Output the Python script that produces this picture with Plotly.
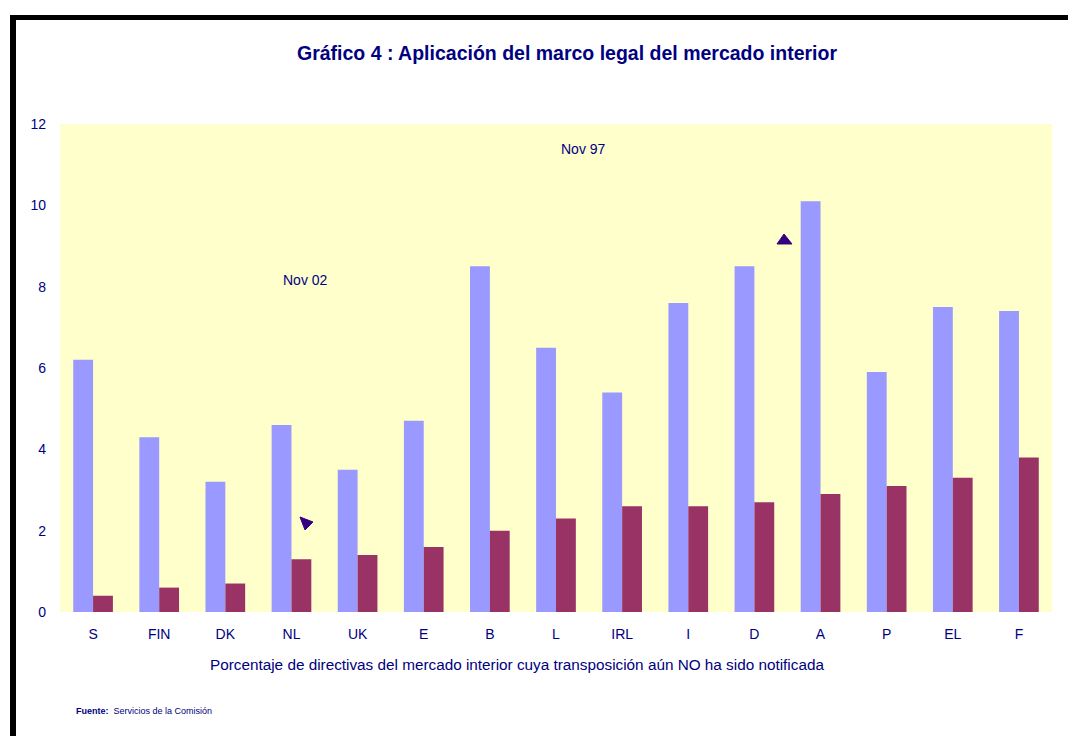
import plotly.graph_objects as go

categories = ["S", "FIN", "DK", "NL", "UK", "E", "B", "L", "IRL", "I", "D", "A", "P", "EL", "F"]
nov97 = [6.2, 4.3, 3.2, 4.6, 3.5, 4.7, 8.5, 6.5, 5.4, 7.6, 8.5, 10.1, 5.9, 7.5, 7.4]
nov02 = [0.4, 0.6, 0.7, 1.3, 1.4, 1.6, 2.0, 2.3, 2.6, 2.6, 2.7, 2.9, 3.1, 3.3, 3.8]
yticks = [0, 2, 4, 6, 8, 10, 12]

NAVY = "#000080"
FONT = "Liberation Sans, Arial, sans-serif"

fig = go.Figure()
fig.add_trace(go.Bar(x=categories, y=nov97, name="Nov 97", marker_color="#9999FF", marker_line_width=0))
fig.add_trace(go.Bar(x=categories, y=nov02, name="Nov 02", marker_color="#993366", marker_line_width=0))

# page pixel -> paper helpers (plot area 60..1052 x, 124..612 y on the page)
def px(x):
    return (x - 60) / 992.0

def py(y):
    return (612 - y) / 488.0

def tri(points):
    return "M " + " L ".join(f"{px(x):.5f},{py(y):.5f}" for x, y in points) + " Z"

fig.update_layout(
    width=1068, height=728,
    margin=dict(l=52, r=24, t=116, b=124, autoexpand=False),
    paper_bgcolor="white",
    plot_bgcolor="#FFFFCC",
    barmode="group",
    bargap=0.4,
    bargroupgap=0,
    showlegend=False,
    font=dict(family=FONT, color=NAVY, size=14),
    title=dict(text="<b>Gráfico 4 : Aplicación del marco legal del mercado interior</b>",
               x=(567 - 8) / 1068, xanchor="center", y=1 - (53 - 8) / 728, yanchor="middle",
               font=dict(size=19.5, color=NAVY, family="Liberation Sans Narrow, Arial Narrow, Liberation Sans, Arial")),
    xaxis=dict(showgrid=False, zeroline=False, showline=False, ticks="",
               tickfont=dict(size=14, color=NAVY), ticklabelstandoff=12),
    yaxis=dict(range=[0, 12], tickvals=yticks, showgrid=False, zeroline=False, showline=False,
               ticks="", tickfont=dict(size=14, color=NAVY), ticklabelstandoff=13),
)

annotations = [
    dict(text="Porcentaje de directivas del mercado interior cuya transposición aún NO ha sido notificada",
         x=px(516.5), y=py(664), xref="paper", yref="paper", showarrow=False,
         xanchor="center", yanchor="middle", font=dict(size=15.3, color=NAVY)),
    dict(text="Nov 97", x=px(583), y=py(149), xref="paper", yref="paper", showarrow=False,
         xanchor="center", yanchor="middle", font=dict(size=14, color=NAVY)),
    dict(text="Nov 02", x=px(305), y=py(280), xref="paper", yref="paper", showarrow=False,
         xanchor="center", yanchor="middle", font=dict(size=14, color=NAVY)),
    dict(text="<b>Fuente:</b>  Servicios de la Comisión", x=px(74), y=py(711), xref="paper", yref="paper",
         xanchor="left", yanchor="middle", showarrow=False, font=dict(size=9, color=NAVY)),
]
fig.update_layout(annotations=annotations)

shapes = [
    dict(type="line", xref="paper", yref="paper", x0=px(10), x1=px(1076), y0=py(17.5), y1=py(17.5),
         line=dict(color="black", width=5)),
    dict(type="line", xref="paper", yref="paper", x0=px(13), x1=px(13), y0=py(15), y1=py(740),
         line=dict(color="black", width=6)),
    dict(type="path", xref="paper", yref="paper", path=tri([(300, 517), (313, 522), (305, 530)]),
         fillcolor="#330080", line=dict(color="#330080", width=1)),
    dict(type="path", xref="paper", yref="paper", path=tri([(784, 234), (777, 244), (792, 244)]),
         fillcolor="#330080", line=dict(color="#330080", width=1)),
]
fig.update_layout(shapes=shapes)

fig.write_html("out.html")
